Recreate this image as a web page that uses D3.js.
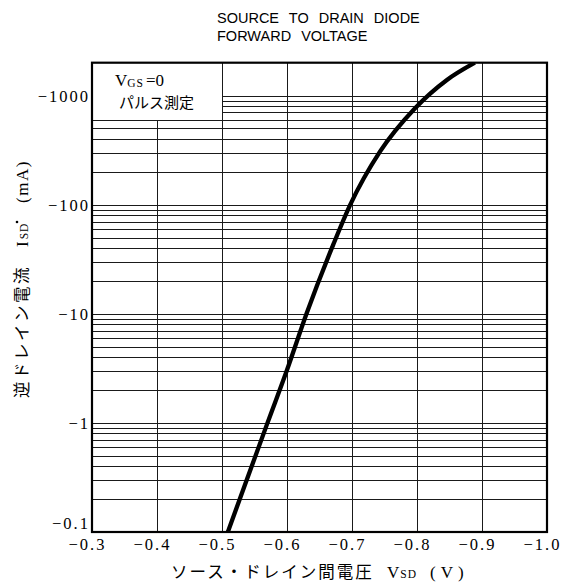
<!DOCTYPE html>
<html><head><meta charset="utf-8">
<script src="https://cdn.jsdelivr.net/npm/d3@7"></script>
<style>body{margin:0;background:#fff;} svg{display:block;}</style>
</head><body>
<svg id="chart" width="573" height="586"></svg>
<script>
// ---- data ----
const vsd = [-0.509, -0.538, -0.570, -0.600, -0.630, -0.671, -0.697, -0.743, -0.797, -0.846, -0.889];
const isd = [0.1, 0.3, 1, 3.05, 10, 42.8, 99, 306, 765, 1390, 2000];
const xTickValues = [-0.3, -0.4, -0.5, -0.6, -0.7, -0.8, -0.9, -1.0];
const xTickLabels = ["−0.3", "−0.4", "−0.5", "−0.6", "−0.7", "−0.8", "−0.9", "−1.0"];
const yTickValues = [0.1, 1, 10, 100, 1000];
const yTickLabels = ["−0.1", "−1", "−10", "−100", "−1000"];
const titleLines = ["SOURCE TO DRAIN DIODE", "FORWARD VOLTAGE"];
const xTitleJa = "ソース・ドレイン間電圧";
const yTitleJa = "逆ドレイン電流";
const legendJa = "パルス測定";

// ---- layout ----
const L = 92, R = 547, T = 62.7, B = 532;
const svg = d3.select("#chart");
const x = d3.scaleLinear().domain([-0.3, -1.0]).range([L, R]);
const y = d3.scaleLog().domain([0.1, 2000]).range([B, T]);
const serif = "'Liberation Serif','DejaVu Serif',serif";
const cjk = "'Noto Sans CJK JP',sans-serif";

// grid
const grid = svg.append("g").attr("stroke", "#1a1a1a").attr("stroke-width", 1);
grid.selectAll("line.h").data(y.ticks().filter(v => v > 0.1 && v < 2000)).join("line")
  .attr("class", "h")
  .attr("x1", L).attr("x2", R)
  .attr("y1", d => Math.round(y(d)) + 0.5).attr("y2", d => Math.round(y(d)) + 0.5);
grid.selectAll("line.v").data(xTickValues.slice(1, -1)).join("line")
  .attr("class", "v")
  .attr("x1", d => Math.round(x(d)) + 0.5).attr("x2", d => Math.round(x(d)) + 0.5)
  .attr("y1", T).attr("y2", B);

// legend box (white area bounded by the -0.5 V line and the 600 mA line)
svg.append("rect")
  .attr("x", L).attr("y", T)
  .attr("width", Math.round(x(-0.5)) - L)
  .attr("height", Math.round(y(600)) - T)
  .attr("fill", "#fff");

// curve
svg.append("clipPath").attr("id", "clip").append("rect")
  .attr("x", L).attr("y", T).attr("width", R - L).attr("height", B - T);
const line = d3.line().x(d => x(d[0])).y(d => y(d[1])).curve(d3.curveMonotoneX);
svg.append("path")
  .datum(vsd.map((v, i) => [v, isd[i]]))
  .attr("clip-path", "url(#clip)")
  .attr("d", line)
  .attr("fill", "none").attr("stroke", "#000").attr("stroke-width", 4.3)
  .attr("stroke-linejoin", "round");

// frame
svg.append("rect").attr("x", L).attr("y", T).attr("width", R - L).attr("height", B - T)
  .attr("fill", "none").attr("stroke", "#000").attr("stroke-width", 2.2);

// axes
const xAxis = svg.append("g").attr("transform", `translate(0,${B})`)
  .call(d3.axisBottom(x).tickValues(xTickValues).tickSize(0).tickFormat((d, i) => xTickLabels[i]));
xAxis.select(".domain").remove();
xAxis.selectAll("text").attr("y", 18).attr("dy", 0).attr("dx", -5)
  .attr("font-family", serif).attr("font-size", 16.5).attr("letter-spacing", 2).attr("fill", "#000");

const yAxis = svg.append("g").attr("transform", `translate(${L},0)`)
  .call(d3.axisLeft(y).tickValues(yTickValues).tickSize(0).tickFormat((d, i) => yTickLabels[i]));
yAxis.select(".domain").remove();
yAxis.selectAll("text").attr("x", -2).attr("dy", (d) => d === 0.1 ? "-0.2em" : "0.34em")
  .attr("font-family", serif).attr("font-size", 16.5).attr("letter-spacing", 2).attr("fill", "#000");

// title
svg.append("g").selectAll("text").data(titleLines).join("text")
  .attr("x", 217).attr("y", (d, i) => 23 + i * 18)
  .attr("font-family", "'Liberation Sans',Arial,sans-serif").attr("font-size", 14.5)
  .attr("word-spacing", 6).attr("fill", "#000")
  .text(d => d);

// legend text
const lg = svg.append("text").attr("x", 115).attr("y", 86).attr("font-family", serif).attr("font-size", 17).attr("fill", "#000");
lg.append("tspan").text("V");
lg.append("tspan").attr("font-size", 11.5).attr("dy", 1).attr("letter-spacing", 1).text("GS");
lg.append("tspan").attr("dy", -1).attr("dx", 2).text("=0");
svg.append("text").attr("x", 119).attr("y", 108).attr("font-family", cjk).attr("font-size", 15)
  .attr("fill", "#000").text(legendJa);

// x title
const xt = svg.append("text").attr("y", 578).attr("fill", "#000");
xt.append("tspan").attr("x", 171).attr("font-family", cjk).attr("font-size", 16.5).attr("letter-spacing", 2).text(xTitleJa);
xt.append("tspan").attr("x", 387).attr("font-family", serif).attr("font-size", 17).text("V");
xt.append("tspan").attr("font-family", serif).attr("font-size", 11.5).attr("dx", 1).attr("letter-spacing", 1).text("SD");
xt.append("tspan").attr("x", 430).attr("font-family", serif).attr("font-size", 17).attr("letter-spacing", 5).text("(V)");

// y title (rotated)
const yt = svg.append("text").attr("transform", "translate(28,398) rotate(-90)").attr("fill", "#000");
yt.append("tspan").attr("x", 0).attr("font-family", cjk).attr("font-size", 16.5).attr("letter-spacing", 2.5).text(yTitleJa);
yt.append("tspan").attr("x", 151).attr("font-family", serif).attr("font-size", 17).text("I");
yt.append("tspan").attr("font-family", serif).attr("font-size", 11.5).attr("dx", 2).attr("letter-spacing", 1).text("SD");
yt.append("tspan").attr("x", 195).attr("font-family", serif).attr("font-size", 17).attr("letter-spacing", 1.5).text("(mA)");

// stray mark near the y title
svg.append("circle").attr("cx", 17).attr("cy", 222).attr("r", 1.3).attr("fill", "#000");
</script>
</body></html>
